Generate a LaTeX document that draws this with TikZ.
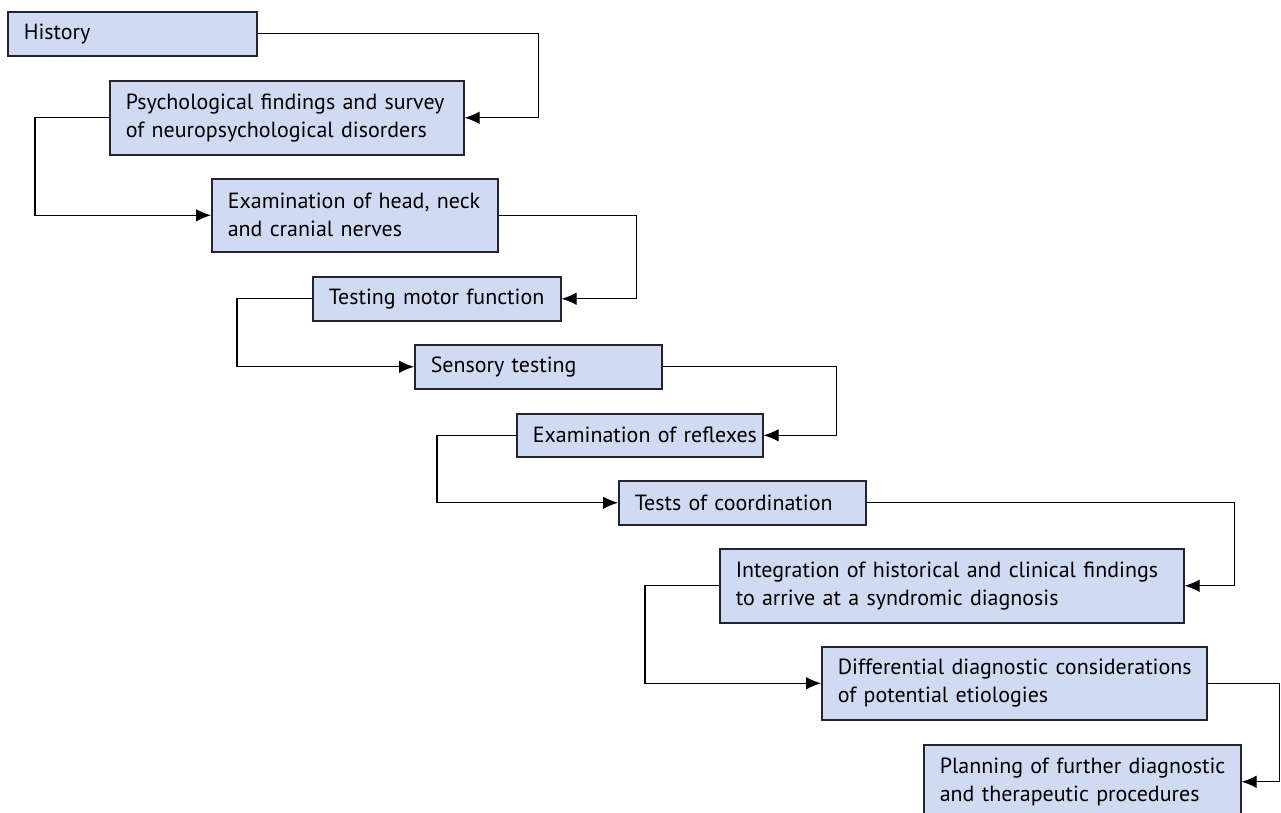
\documentclass[tikz,border=0pt]{standalone}
\usepackage{fontspec}
\setmainfont{PT Sans}
\usetikzlibrary{arrows.meta}
\definecolor{boxfill}{RGB}{208,218,242}
\definecolor{boxline}{RGB}{35,35,50}
\tikzset{
	stage/.style={draw=boxline, fill=boxfill, line width=0.9pt, anchor=north west,
		inner xsep=0pt, inner ysep=0pt, align=left,
		execute at begin node={\leftskip=0.32cm},
		font=\fontsize{12.5}{16}\selectfont},
	link/.style={draw=black, line width=0.6pt, -{Latex[length=3mm,width=2.5mm]}}
}

\begin{document}
\begin{tikzpicture}
	\clip (0,0) rectangle (25.62,-16.26);
	\fill[white] (0,0) rectangle (25.62,-16.26);
	% boxes of the examination sequence
	\node(hist)[stage, text width=4.98cm, minimum height=0.88cm] at (0.14, -0.22) {History};
	\node(psych)[stage, text width=7.08cm, minimum height=1.48cm] at (2.18, -1.60) {Psychological findings and survey\\of neuropsychological disorders};
	\node(head)[stage, text width=5.72cm, minimum height=1.46cm] at (4.22, -3.56) {Examination of head, neck\\and cranial nerves};
	\node(motor)[stage, text width=4.96cm, minimum height=0.88cm] at (6.24, -5.52) {Testing motor function};
	\node(sens)[stage, text width=4.94cm, minimum height=0.88cm] at (8.28, -6.88) {Sensory testing};
	\node(refl)[stage, text width=4.92cm, minimum height=0.86cm] at (10.32, -8.26) {Examination of reflexes};
	\node(coord)[stage, text width=4.94cm, minimum height=0.88cm] at (12.36, -9.60) {Tests of coordination};
	\node(integ)[stage, text width=9.28cm, minimum height=1.48cm] at (14.38, -10.96) {Integration of historical and clinical findings\\to arrive at a syndromic diagnosis};
	\node(diff)[stage, text width=7.70cm, minimum height=1.46cm] at (16.42, -12.92) {Differential diagnostic considerations\\of potential etiologies};
	\node(plan)[stage, text width=6.34cm, minimum height=1.48cm] at (18.46, -14.88) {Planning of further diagnostic\\and therapeutic procedures};
	% connectors
	\draw[link] (hist.east) -| ([xshift=1.48cm]psych.east) -- (psych.east);
	\draw[link] (psych.west) -| ([xshift=-3.52cm]head.west) -- (head.west);
	\draw[link] (head.east) -| ([xshift=1.50cm]motor.east) -- (motor.east);
	\draw[link] (motor.west) -| ([xshift=-3.54cm]sens.west) -- (sens.west);
	\draw[link] (sens.east) -| ([xshift=1.46cm]refl.east) -- (refl.east);
	\draw[link] (refl.west) -| ([xshift=-3.62cm]coord.west) -- (coord.west);
	\draw[link] (coord.east) -| ([xshift=1.00cm]integ.east) -- (integ.east);
	\draw[link] (integ.west) -| ([xshift=-3.52cm]diff.west) -- (diff.west);
	\draw[link] (diff.east) -| ([xshift=0.76cm]plan.east) -- (plan.east);
\end{tikzpicture}
\end{document}
